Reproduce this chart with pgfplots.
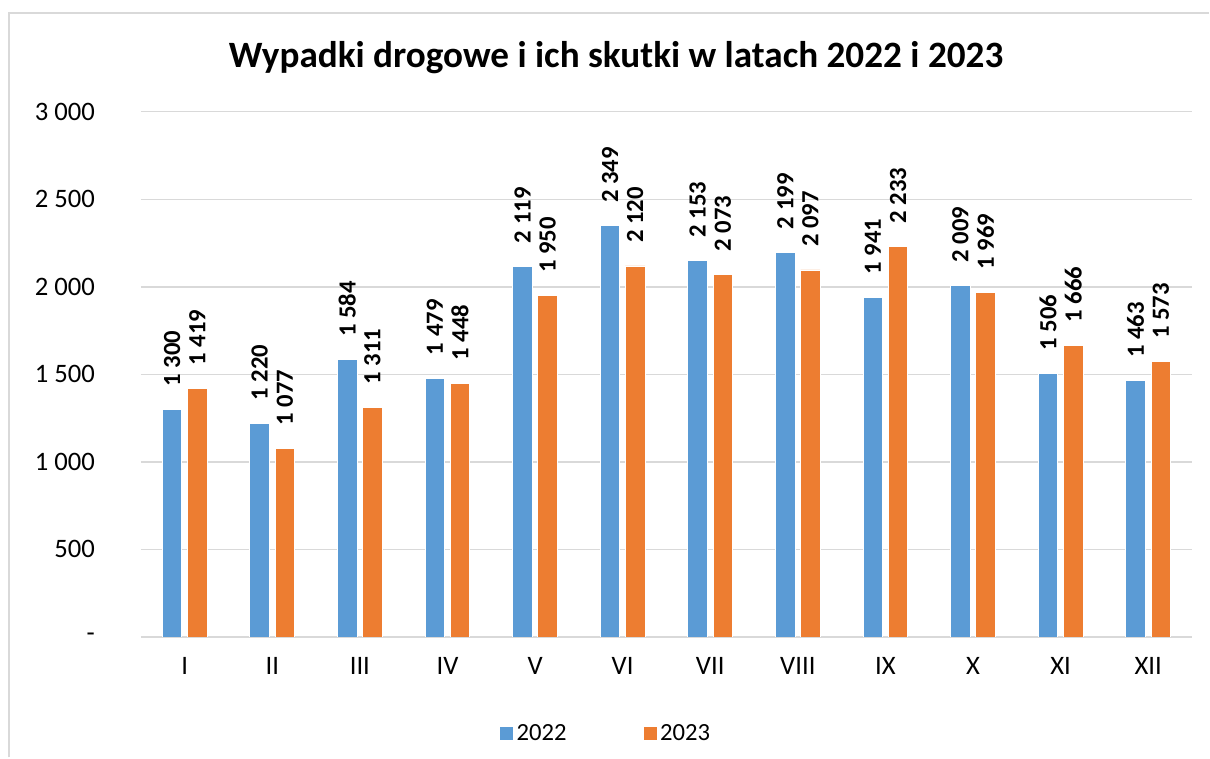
\documentclass[border=0pt]{standalone}
\usepackage{pgfplots}
\pgfplotsset{compat=1.18}
\usepackage{fontspec}
\setmainfont{Carlito}
\definecolor{cblue}{HTML}{5B9BD5}
\definecolor{corange}{HTML}{ED7D31}
\definecolor{cgrid}{HTML}{D9D9D9}
\begin{document}
\begin{tikzpicture}
\path (0pt,0pt) rectangle (907.5pt,568.5pt);
\draw[cgrid, line width=1.5pt] (6.75pt,0pt) -- (6.75pt,558.75pt) -- (907.5pt,558.75pt);
\node[font=\fontsize{27.9}{33}\selectfont\bfseries] at (462.4pt,525pt) {Wypadki drogowe i ich skutki w latach 2022 i 2023};
\begin{axis}[
  at={(105.75pt,90.4pt)}, anchor=south west,
  scale only axis, width=789pt, height=394.1pt,
  xmin=-0.5, xmax=11.5, ymin=0, ymax=3000,
  ybar, bar width=14.7pt,
  axis line style={draw=none},
  axis x line*=bottom,
  x axis line style={draw=cgrid, line width=1.2pt},
  ytick={0,500,1000,1500,2000,2500,3000},
  yticklabels={-,500,1 000,1 500,2 000,2 500,3 000},
  xtick={0,...,11},
  xticklabels={I,II,III,IV,V,VI,VII,VIII,IX,X,XI,XII},
  major tick length=0pt,
  ymajorgrids, grid style={cgrid, line width=0.9pt},
  tick label style={font=\fontsize{20}{24}\selectfont},
  yticklabel style={anchor=east, xshift=-31pt},
  xticklabel style={yshift=-12pt},
  nodes near coords,
  /pgf/number format/assume math mode=true,
  /pgf/number format/.cd, fixed, precision=0, 1000 sep={\ },
  /pgfplots/.cd,
  every node near coord/.append style={font=\fontsize{18.5}{22}\selectfont\bfseries, rotate=90, anchor=west, inner xsep=17pt, black},
  legend style={at={(0.4425,-0.1836)}, anchor=center, draw=none, fill=none,
    legend columns=2, font=\fontsize{18.5}{22}\selectfont,
    /tikz/every even column/.append style={column sep=55pt}},
  legend image code/.code={\fill[#1] (0pt,-5.25pt) rectangle (10.5pt,5.25pt);},
]
\addplot[fill=cblue, draw=white, line width=0.6pt, bar shift=-9.45pt] coordinates {
(0,1300) (1,1220) (2,1584) (3,1479) (4,2119) (5,2349) (6,2153) (7,2199) (8,1941) (9,2009) (10,1506) (11,1463)};
\addplot[fill=corange, draw=white, line width=0.6pt, bar shift=9.45pt] coordinates {
(0,1419) (1,1077) (2,1311) (3,1448) (4,1950) (5,2120) (6,2073) (7,2097) (8,2233) (9,1969) (10,1666) (11,1573)};
\legend{2022,2023}
\end{axis}
\end{tikzpicture}
\end{document}
